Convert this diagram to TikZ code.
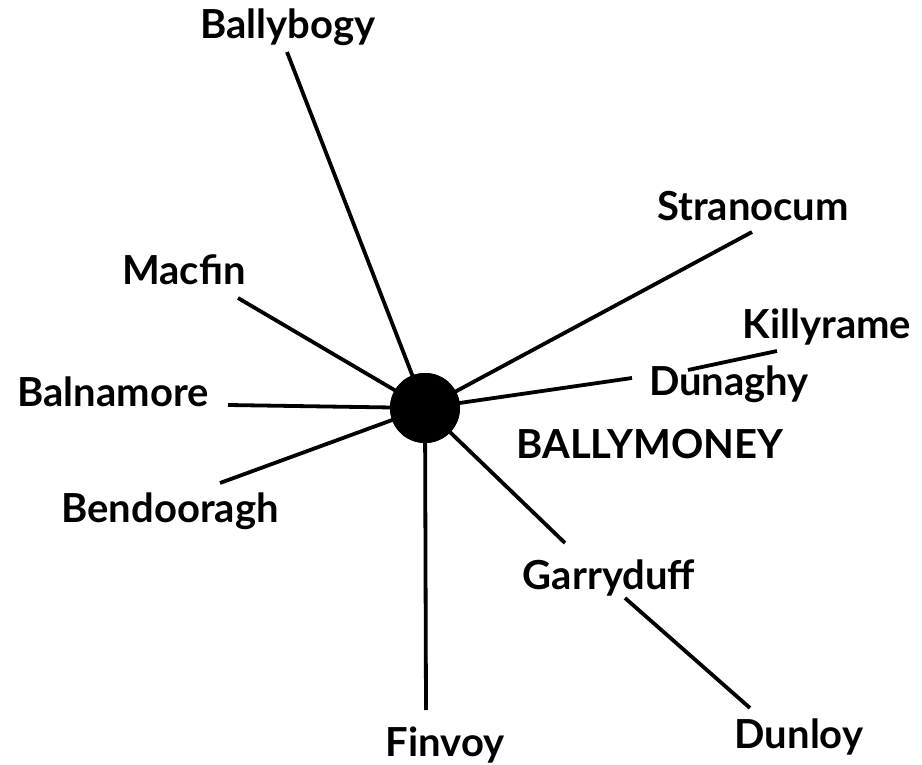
\documentclass[tikz,border=0pt]{standalone}
\usepackage{fontspec}
\setmainfont{Lato}
\usetikzlibrary{positioning}
\definecolor{inkcolor}{HTML}{000000}

\begin{document}
\begin{tikzpicture}[x=1pt, y=-1pt, line width=3.8pt]

\tikzset{
  place/.style={font=\bfseries\fontsize{40}{40}\selectfont, text=inkcolor,
    anchor=base, inner sep=0pt},
  town/.style={circle, fill=inkcolor, minimum size=70pt, inner sep=0pt},
  road/.style={draw=inkcolor, line cap=butt},
}

\useasboundingbox (0,0) rectangle (922,765);

% ---- hub ----
\node[town] (ballymoney) at (425,408) {};
\node[place] (ballymoneylbl) at (650,458) {BALLYMONEY};

% ---- outlying places ----
\node[place] (ballybogy)  at (288,39)  {Ballybogy};
\node[place] (stranocum)  at (753,221) {Stranocum};
\node[place] (macfin)     at (184,284) {Macfin};
\node[place] (killyrame)  at (827,338) {Killyrame};
\node[place] (dunaghy)    at (729,395) {Dunaghy};
\node[place] (balnamore)  at (113,406) {Balnamore};
\node[place] (bendooragh) at (170,522) {Bendooragh};
\node[place] (garryduff)  at (609,589) {Garryduff};
\node[place] (finvoy)     at (445,756) {Finvoy};
\node[place] (dunloy)     at (799,748) {Dunloy};

% ---- road ends ----
\coordinate (ballybogyend)  at (287,52);
\coordinate (stranocumend)  at (752,232);
\coordinate (macfinend)     at (238,298);
\coordinate (dunaghyend)    at (632,378);
\coordinate (balnamoreend)  at (228,405);
\coordinate (bendooraghend) at (220,483);
\coordinate (garryduffend)  at (565,543);
\coordinate (finvoyend)     at (426,710);
\coordinate (killyramea)    at (688,370);
\coordinate (killyrameb)    at (777,351);
\coordinate (dunloya)       at (625,598);
\coordinate (dunloyb)       at (750,708);

\draw[road] (ballymoney.center) -- (ballybogyend);
\draw[road] (ballymoney.center) -- (stranocumend);
\draw[road] (ballymoney.center) -- (macfinend);
\draw[road] (ballymoney.center) -- (dunaghyend);
\draw[road] (ballymoney.center) -- (balnamoreend);
\draw[road] (ballymoney.center) -- (bendooraghend);
\draw[road] (ballymoney.center) -- (garryduffend);
\draw[road] (ballymoney.center) -- (finvoyend);
\draw[road] (killyramea) -- (killyrameb);
\draw[road] (dunloya) -- (dunloyb);

% redraw hub on top of the roads
\node[town] at (ballymoney) {};

\end{tikzpicture}
\end{document}
